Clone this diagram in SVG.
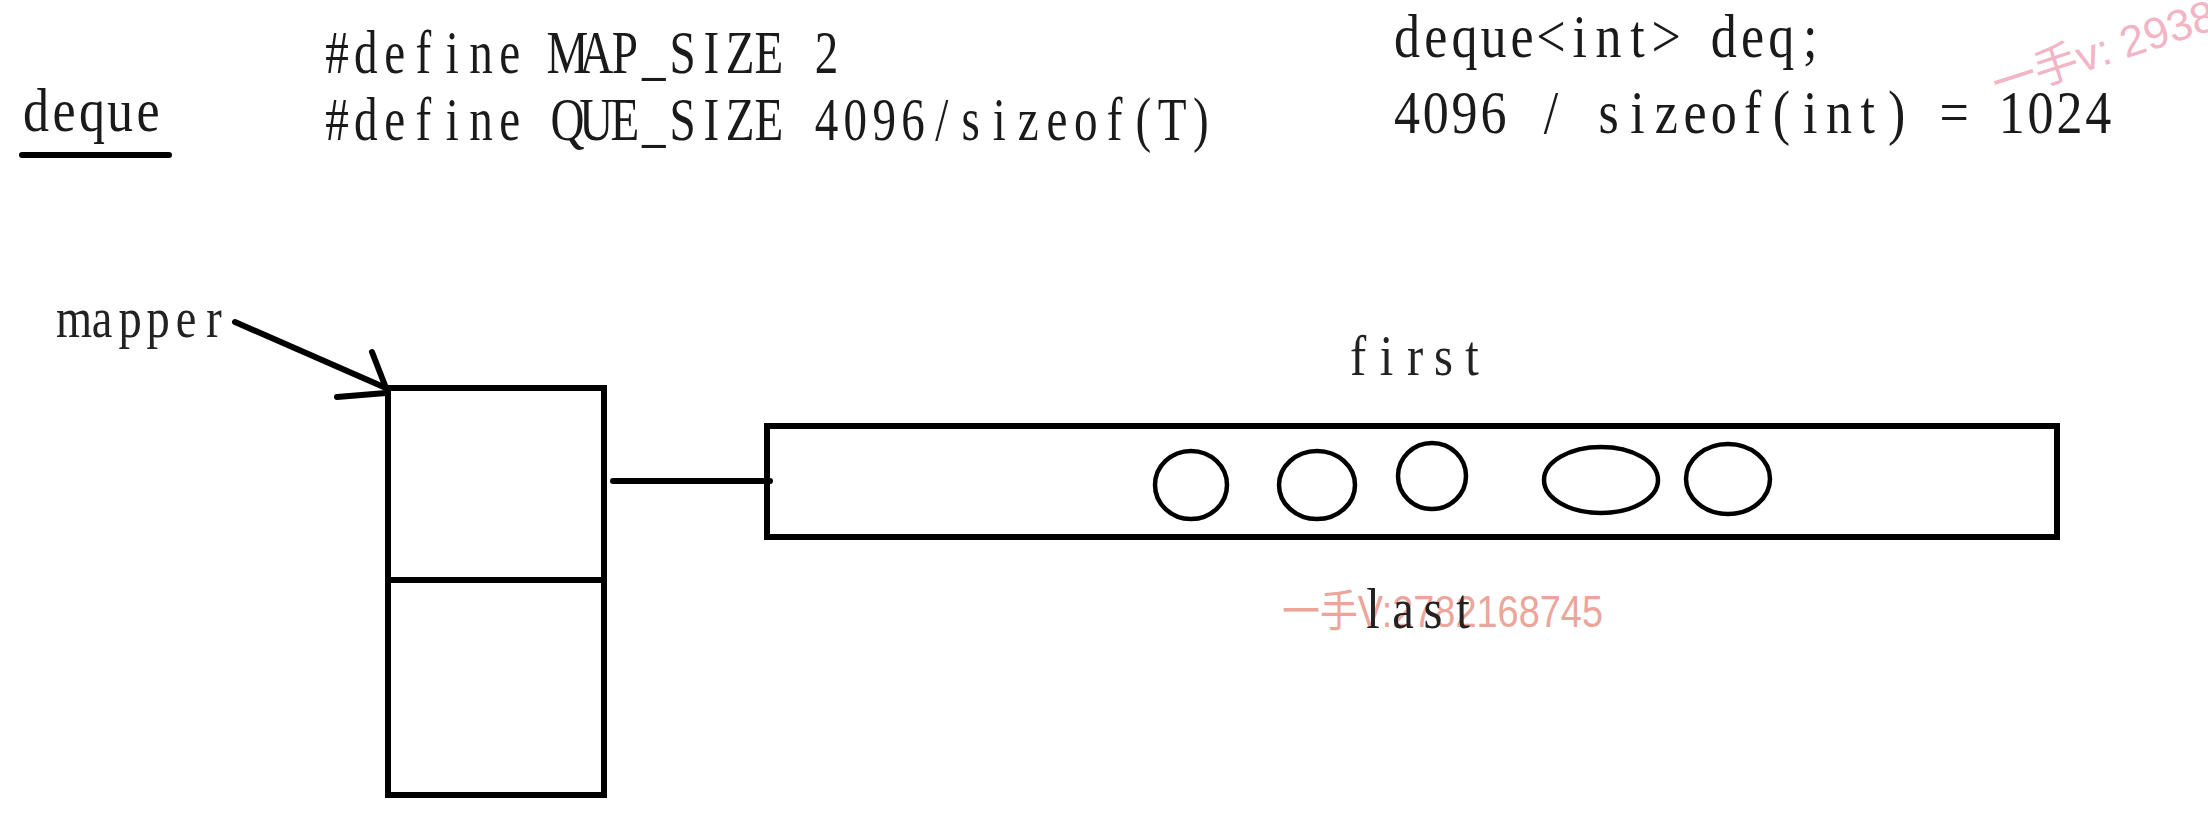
<svg xmlns="http://www.w3.org/2000/svg" width="2208" height="832" viewBox="0 0 2208 832">
<style>
.code{font-family:"Liberation Serif","DejaVu Serif",serif;font-size:62px;fill:#1a1a1a;text-anchor:middle}
.lbl{font-family:"Liberation Serif","DejaVu Serif",serif;font-size:58px;fill:#222;text-anchor:middle}
.ln{stroke:#000;stroke-width:6;fill:none;stroke-linecap:round;stroke-linejoin:miter}
.ell{stroke:#000;stroke-width:4.5;fill:none}
.wm{font-family:"Liberation Sans","Noto Sans CJK SC",sans-serif;fill:#e9968a;opacity:0.85}
</style>
<rect width="2208" height="832" fill="#fff"/>
<g id="title">
<text class="code" transform="translate(36,0) scale(0.84,1)" x="0 33.3 66.7 100 133.3" y="131">deque</text>
<line class="ln" x1="22" y1="155" x2="169" y2="155" stroke-width="5"/>
</g>
<g id="defines">
<text class="code" transform="translate(337,0) scale(0.76,1)" x="0 37.9 75.8 113.7 151.6 189.5 227.4 265.3 303.2 341.1 378.9 416.8 454.7 492.6 530.5 568.4 606.3 644.2" y="73">#define MAP_SIZE 2</text>
<text class="code" transform="translate(337,0) scale(0.76,1)" x="0 37.9 75.8 113.7 151.6 189.5 227.4 265.3 303.2 341.1 378.9 416.8 454.7 492.6 530.5 568.4 606.3 644.2 682.1 720 757.9 795.8 833.7 871.6 909.5 947.4 985.3 1023.2 1061.1 1098.9 1136.8" y="140">#define QUE_SIZE 4096/sizeof(T)</text>
</g>
<g id="decl">
<text class="code" transform="translate(1407,0) scale(0.84,1)" x="0 34.29 68.57 102.86 137.14 171.43 205.71 240 274.29 308.57 342.86 377.14 411.43 445.71 480" y="57">deque&lt;int&gt; deq;</text>
<text class="code" transform="translate(1407,0) scale(0.84,1)" x="0 34.29 68.57 102.86 137.14 171.43 205.71 240 274.29 308.57 342.86 377.14 411.43 445.71 480 514.29 548.57 582.86 617.14 651.43 685.71 720 754.29 788.57 822.86" y="133">4096 / sizeof(int) = 1024</text>
</g>
<g id="mapper-label">
<text class="lbl" transform="translate(74,0) scale(0.8,1)" x="0 35 70 105 140 175" y="337">mapper</text>
</g>
<g id="map-box">
<rect class="ln" x="388" y="388" width="216" height="407" stroke-linecap="butt"/>
<line class="ln" x1="388" y1="580" x2="604" y2="580"/>
</g>
<g id="buffer">
<rect class="ln" x="767" y="426" width="1290" height="111"/>
<ellipse class="ell" cx="1191" cy="485" rx="36" ry="34"/>
<ellipse class="ell" cx="1317" cy="485" rx="38" ry="34"/>
<ellipse class="ell" cx="1432" cy="476" rx="34" ry="33"/>
<ellipse class="ell" cx="1601" cy="480" rx="57" ry="33"/>
<ellipse class="ell" cx="1728" cy="479" rx="42" ry="35"/>
<text class="lbl" transform="translate(1358,0) scale(0.84,1)" x="0 33.9 67.9 101.8 135.7" y="375">first</text>
</g>
<g id="watermarks">
<text class="wm" x="1282" y="627" font-size="44" textLength="321" lengthAdjust="spacingAndGlyphs">一手V:2782168745</text>
<text class="wm" x="1998" y="100" font-size="44" transform="rotate(-18 1998 100)" style="fill:#f0a3b8;opacity:0.8">一手v: 29389</text>
</g>
<g id="last-label">
<text class="lbl" transform="translate(1373,0) scale(0.84,1)" x="0 35.7 71.4 107.1" y="628">last</text>
</g>
<g id="connectors">
<line class="ln" x1="235" y1="322" x2="386" y2="388"/>
<line class="ln" x1="372" y1="352" x2="386" y2="388"/>
<line class="ln" x1="337" y1="397" x2="386" y2="393"/>
<line class="ln" x1="613" y1="481" x2="770" y2="481"/>
</g>
</svg>
